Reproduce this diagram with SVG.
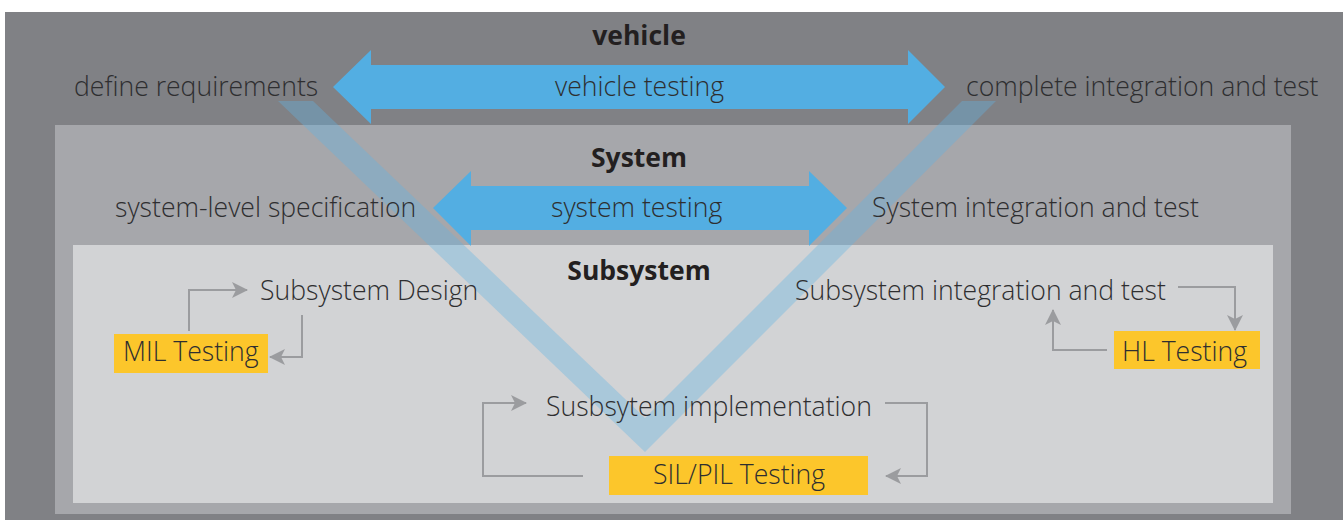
<svg xmlns="http://www.w3.org/2000/svg" width="1343" height="520" viewBox="0 0 1343 520">
<style>
.t{font-family:"Open Sans","Noto Sans","Liberation Sans",sans-serif;font-weight:300;font-size:26.6px;fill:#2e2e30}
.b{font-family:"Open Sans","Noto Sans","Liberation Sans",sans-serif;font-weight:700;font-size:26.5px;fill:#231f20;text-anchor:middle}
.box{fill:#fcc62b}
.con{fill:none;stroke:#9b9c9f;stroke-width:2;marker-end:url(#ah)}
.big{fill:#53aee2}
</style>
<defs>
<marker id="ah" viewBox="0 0 16 16" refX="15" refY="8" markerWidth="16" markerHeight="16" markerUnits="userSpaceOnUse" orient="auto">
<path d="M0,0 L16,8 L0,16 L4,8 Z" fill="#9b9c9f"/>
</marker>
</defs>
<g id="background">
<rect x="5" y="12" width="1338" height="508" fill="#808185"/>
<rect x="55" y="125" width="1236" height="389" fill="#a6a7ab"/>
<rect x="73" y="245" width="1200" height="258" fill="#d2d3d5"/>
</g>
<g id="vehicle-arrow">
<polygon class="big" points="333,87 371,50 371,65 908,65 908,50 945,87 908,124 908,109 371,109 371,124"/>
</g>
<g id="system-arrow">
<polygon class="big" points="433,208 471,171 471,186 809,186 809,171 847,208 809,246 809,230 471,230 471,246"/>
</g>
<g id="v-band">
<polygon points="278,101 313,101 645,418 962,101 996,101 645,452" fill="#62b5e2" fill-opacity="0.36"/>
</g>
<g id="connectors">
<polyline class="con" points="189,331 189,290 247,290"/>
<polyline class="con" points="302,315 302,357 270,357"/>
<polyline class="con" points="1178,287 1235,287 1235,330"/>
<polyline class="con" points="1107,350 1053,350 1053,310"/>
<polyline class="con" points="583,476 483,476 483,403 526,403"/>
<polyline class="con" points="885,403 927,403 927,476 886,476"/>
</g>
<g id="vehicle-level">
<text class="b" x="639" y="45">vehicle</text>
<text class="t" x="74" y="96">define requirements</text>
<text class="t" x="555" y="96">vehicle testing</text>
<text class="t" x="966" y="96">complete integration and test</text>
</g>
<g id="system-level">
<text class="b" x="639" y="167">System</text>
<text class="t" x="115" y="217">system-level specification</text>
<text class="t" x="551" y="217">system testing</text>
<text class="t" x="872" y="217">System integration and test</text>
</g>
<g id="subsystem-level">
<text class="b" x="639" y="280">Subsystem</text>
</g>
<g id="subsystem-design">
<text class="t" x="260" y="300">Subsystem Design</text>
</g>
<g id="mil-testing">
<rect class="box" x="114" y="334" width="154" height="39"/>
<text class="t" x="123" y="361">MIL Testing</text>
</g>
<g id="subsystem-integration">
<text class="t" x="795" y="300">Subsystem integration and test</text>
</g>
<g id="hl-testing">
<rect class="box" x="1114" y="331" width="146" height="38"/>
<text class="t" x="1122" y="361">HL Testing</text>
</g>
<g id="subsystem-implementation">
<text class="t" x="546" y="416">Susbsytem implementation</text>
</g>
<g id="sil-pil-testing">
<rect class="box" x="609" y="456" width="259" height="39"/>
<text class="t" x="653" y="484">SIL/PIL Testing</text>
</g>
</svg>
